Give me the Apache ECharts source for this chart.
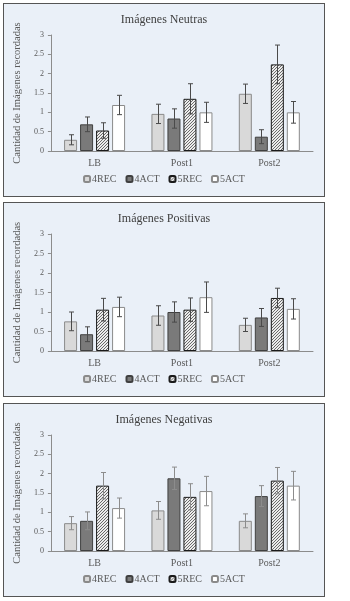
<!DOCTYPE html>
<html><head><meta charset="utf-8">
<script src="https://cdn.jsdelivr.net/npm/echarts@6/dist/echarts.min.js"></script>
<style>
html,body{margin:0;padding:0;background:#fff;width:350px;height:601px;overflow:hidden;}
.panel{position:absolute;left:3px;width:322px;box-sizing:border-box;border:1px solid #555;background:#eaf0f8;}
.panel div.c{width:100%;height:100%;}
</style>
</head><body>
<div class="panel" id="p1" style="top:3px;height:194px"><div class="c" id="c1"></div></div>
<div class="panel" id="p2" style="top:202px;height:195px"><div class="c" id="c2"></div></div>
<div class="panel" id="p3" style="top:403px;height:194px"><div class="c" id="c3"></div></div>
<script>
const categories = ['LB', 'Post1', 'Post2'];
const seriesNames = ['4REC', '4ACT', '5REC', '5ACT'];
const yAxisName = 'Cantidad de Imágenes recordadas';

const titles = ['Imágenes Neutras', 'Imágenes Positivas', 'Imágenes Negativas'];

// Imágenes Neutras
const neutras4REC = [0.29, 0.96, 1.48];
const neutras4ACT = [0.69, 0.84, 0.37];
const neutras5REC = [0.53, 1.35, 2.24];
const neutras5ACT = [1.19, 1.00, 1.00];
const neutrasErr4REC = [0.13, 0.25, 0.25];
const neutrasErr4ACT = [0.19, 0.25, 0.18];
const neutrasErr5REC = [0.20, 0.39, 0.50];
const neutrasErr5ACT = [0.25, 0.26, 0.28];

// Imágenes Positivas
const positivas4REC = [0.76, 0.91, 0.67];
const positivas4ACT = [0.43, 1.00, 0.86];
const positivas5REC = [1.06, 1.06, 1.36];
const positivas5ACT = [1.13, 1.38, 1.08];
const positivasErr4REC = [0.24, 0.25, 0.17];
const positivasErr4ACT = [0.19, 0.26, 0.23];
const positivasErr5REC = [0.29, 0.30, 0.25];
const positivasErr5ACT = [0.25, 0.39, 0.26];

// Imágenes Negativas
const negativas4REC = [0.72, 1.05, 0.78];
const negativas4ACT = [0.78, 1.88, 1.42];
const negativas5REC = [1.69, 1.40, 1.82];
const negativas5ACT = [1.11, 1.55, 1.69];
const negativasErr4REC = [0.17, 0.23, 0.18];
const negativasErr4ACT = [0.23, 0.29, 0.27];
const negativasErr5REC = [0.34, 0.34, 0.34];
const negativasErr5ACT = [0.26, 0.38, 0.37];

const panels = [
  {el:'c1', title:titles[0], values:[neutras4REC,neutras4ACT,neutras5REC,neutras5ACT], errs:[neutrasErr4REC,neutrasErr4ACT,neutrasErr5REC,neutrasErr5ACT], errColor:'#4a4a4a'},
  {el:'c2', title:titles[1], values:[positivas4REC,positivas4ACT,positivas5REC,positivas5ACT], errs:[positivasErr4REC,positivasErr4ACT,positivasErr5REC,positivasErr5ACT], errColor:'#4a4a4a'},
  {el:'c3', title:titles[2], values:[negativas4REC,negativas4ACT,negativas5REC,negativas5ACT], errs:[negativasErr4REC,negativasErr4ACT,negativasErr5REC,negativasErr5ACT], errColor:'#8c8c8c'}
];

// hatch pattern
const pc = document.createElement('canvas');
pc.width = 3; pc.height = 3;
const pctx = pc.getContext('2d');
pctx.fillStyle = '#ececec'; pctx.fillRect(0,0,3,3);
pctx.fillStyle = '#6a6a6a';
for (let i=0;i<3;i++){ pctx.fillRect(i,2-i,1,1); }

const styles = [
  {color:'#d9d9d9', borderColor:'#8a8a8a', borderWidth:1},
  {color:'#7a7a7a', borderColor:'#404040', borderWidth:1},
  {color:{image:pc, repeat:'repeat'}, borderColor:'#1a1a1a', borderWidth:1},
  {color:'#ffffff', borderColor:'#8a8a8a', borderWidth:1}
];

const BAR_W = 13, GAP = 3;
const FONT = 'Liberation Serif';

panels.forEach(p => {
  const chart = echarts.init(document.getElementById(p.el), null, {renderer:'canvas'});
  const series = [];
  seriesNames.forEach((n, i) => {
    series.push({
      name:n, type:'bar', data:p.values[i], barWidth:BAR_W, barGap:(GAP/BAR_W*100)+'%',
      itemStyle:styles[i], z:2
    });
  });
  const groupW = 4*BAR_W + 3*GAP;
  seriesNames.forEach((n, i) => {
    const off = -groupW/2 + BAR_W/2 + i*(BAR_W+GAP);
    series.push({
      type:'custom', name:'err'+n, z:5, silent:true,
      data:p.values[i].map((v,k)=>[k, v, p.errs[i][k]]),
      encode:{x:0, y:1},
      renderItem:(params, api) => {
        const k = api.value(0), v = api.value(1), e = api.value(2);
        const top = api.coord([k, v+e]);
        const bot = api.coord([k, v-e]);
        const x = Math.round(top[0] + off) + 0.5;
        const cw = 2.5;
        const st = {stroke:p.errColor, lineWidth:1};
        return {type:'group', children:[
          {type:'line', shape:{x1:x, y1:top[1], x2:x, y2:bot[1]}, style:st},
          {type:'line', shape:{x1:x-cw, y1:top[1], x2:x+cw, y2:top[1]}, style:st},
          {type:'line', shape:{x1:x-cw, y1:bot[1], x2:x+cw, y2:bot[1]}, style:st}
        ]};
      }
    });
  });
  chart.setOption({
    animation:false,
    textStyle:{fontFamily:FONT},
    title:{text:p.title, left:'center', top:5, textStyle:{fontFamily:FONT, fontSize:12, fontWeight:'normal', color:'#404040'}},
    legend:{data:seriesNames, bottom:7, left:'center', itemWidth:6, itemHeight:6, itemGap:9,
      textStyle:{fontFamily:FONT, fontSize:10, color:'#595959', padding:[0,0,0,-3]}},
    grid:{left:44, right:11, top:31, bottom:45},
    xAxis:{type:'category', data:categories, axisTick:{show:false},
      axisLine:{lineStyle:{color:'#8c8c8c', width:1}},
      axisLabel:{fontFamily:FONT, fontSize:10, color:'#595959', margin:7}},
    yAxis:{type:'value', min:0, max:3, interval:0.5, splitLine:{show:false},
      name:yAxisName, nameLocation:'middle', nameGap:24, nameRotate:90,
      nameTextStyle:{fontFamily:FONT, fontSize:10.5, color:'#595959'},
      axisLine:{show:true, lineStyle:{color:'#8c8c8c', width:1}},
      axisTick:{show:true, length:3, lineStyle:{color:'#8c8c8c'}},
      axisLabel:{fontFamily:FONT, fontSize:8, color:'#595959', margin:7}},
    series:series
  });
});
</script>
</body></html>
